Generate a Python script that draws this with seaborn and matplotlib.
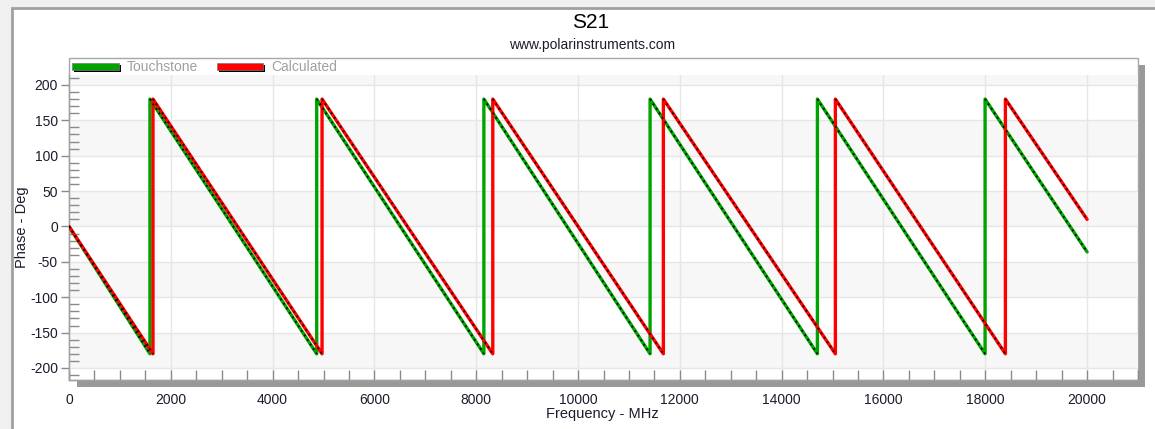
import numpy as np
import pandas as pd
import matplotlib
matplotlib.use("Agg")
import matplotlib.pyplot as plt
import seaborn as sns
from matplotlib.patches import Rectangle
from matplotlib.ticker import MultipleLocator

# ---------------- data ----------------
touch_freq = [0, 1590, 1590, 4866, 4866, 8150, 8150, 11415, 11415,
              14702, 14702, 17996, 17996, 20000]
touch_phase = [0, -180, 180, -180, 180, -180, 180, -180, 180,
               -180, 180, -180, 180, -36]
calc_freq = [0, 1650, 1650, 4971, 4971, 8325, 8325, 11676, 11676,
             15055, 15055, 18395, 18395, 20000]
calc_phase = [0, -180, 180, -180, 180, -180, 180, -180, 180,
              -180, 180, -180, 180, 10]
series_names = ["Touchstone", "Calculated"]
series_colors = ["#00a400", "#ff0000"]
x_ticks = [0, 2000, 4000, 6000, 8000, 10000, 12000, 14000, 16000, 18000, 20000]
y_ticks = [-200, -150, -100, -50, 0, 50, 100, 150, 200]
title = "S21"
subtitle = "www.polarinstruments.com"
x_label = "Frequency - MHz"
y_label = "Phase - Deg"

df = pd.concat([
    pd.DataFrame({"freq": touch_freq, "phase": touch_phase, "series": series_names[0]}),
    pd.DataFrame({"freq": calc_freq, "phase": calc_phase, "series": series_names[1]}),
], ignore_index=True)

# ---------------- style ----------------
sns.set_style("white")
plt.rcParams["font.family"] = ["Liberation Sans", "DejaVu Sans"]
plt.rcParams["axes.unicode_minus"] = False

W, H = 1155, 429
fig = plt.figure(figsize=(W / 100, H / 100), dpi=100)
fig.patch.set_facecolor("#f0f0f0")


def fx(px):
    return px / W


def fy(py):
    return 1 - py / H


# outer white panel with frame
fig.add_artist(Rectangle((fx(12), fy(440)), fx(1160 - 12), (440 - 8) / H,
                         transform=fig.transFigure, facecolor="white",
                         edgecolor="#a0a0a0", lw=2, zorder=0))

# shadows of plot frame
fig.add_artist(Rectangle((fx(1138), fy(387)), 7 / W, (387 - 65) / H,
                         transform=fig.transFigure, facecolor="#999999",
                         edgecolor="none", zorder=1))
fig.add_artist(Rectangle((fx(77), fy(387)), (1145 - 77) / W, 7 / H,
                         transform=fig.transFigure, facecolor="#999999",
                         edgecolor="none", zorder=1))
# plot frame (includes legend strip)
fig.add_artist(Rectangle((fx(69), fy(380)), (1138 - 69) / W, (380 - 58) / H,
                         transform=fig.transFigure, facecolor="white",
                         edgecolor="#a8a8a8", lw=1, zorder=1))

ax = fig.add_axes([fx(69), fy(380), (1138 - 69) / W, (380 - 75) / H])
ax.set_zorder(2)
ax.patch.set_alpha(0)

# alternating horizontal bands
band_color = "#f7f7f7"
for lo, hi in [(200, 230), (100, 150), (0, 50), (-100, -50), (-200, -150)]:
    ax.axhspan(lo, hi, color=band_color, lw=0, zorder=0)

palette = dict(zip(series_names, series_colors))
sns.lineplot(data=df, x="freq", y="phase", hue="series", hue_order=series_names,
             palette=palette, estimator=None, sort=False, lw=2.4,
             legend=False, ax=ax, zorder=3)

# small black data dots along the sloped segments
for fr, ph in [(touch_freq, touch_phase), (calc_freq, calc_phase)]:
    for i in range(len(fr) - 1):
        if fr[i] != fr[i + 1]:
            ax.plot([fr[i], fr[i + 1]], [ph[i], ph[i + 1]], color="black",
                    lw=1.3, ls=(0, (1, 2.0)), zorder=4)

ax.set_xlim(0, 21000)
ax.set_ylim(-217, 214)
ax.set_xticks(x_ticks)
ax.set_yticks(y_ticks)
ax.xaxis.set_minor_locator(MultipleLocator(500))
ax.yaxis.set_minor_locator(MultipleLocator(10))
ax.grid(True, which="major", color="#e6e6e6", lw=1, zorder=1)
ax.set_axisbelow(True)

tick_col = "#8a8a8a"
lab_col = "#1c1c2c"
ax.tick_params(axis="both", which="both", bottom=True, left=True,
               top=False, right=False)
ax.tick_params(axis="y", which="major", direction="out", length=6, width=1,
               color=tick_col, labelsize=10, labelcolor=lab_col, pad=2)
ax.tick_params(axis="y", which="minor", direction="in", length=7, width=1,
               color=tick_col)
ax.tick_params(axis="x", which="major", direction="in", length=7, width=1,
               color=tick_col, labelsize=10, labelcolor=lab_col, pad=9)
ax.tick_params(axis="x", which="minor", direction="in", length=7, width=1,
               color=tick_col)

for s in ["top", "right"]:
    ax.spines[s].set_visible(False)
for s in ["left", "bottom"]:
    ax.spines[s].set_color("#a0a0a0")
    ax.spines[s].set_linewidth(1)

ax.set_xlabel("")
ax.set_ylabel("")
fig.text(fx(602), fy(414), x_label, ha="center", va="center",
         fontsize=10.5, color=lab_col)
fig.text(fx(22), fy(227), y_label, ha="center", va="center", rotation=90,
         fontsize=10.5, color=lab_col)

# titles
fig.text(fx(591), fy(22), title, ha="center", va="center", fontsize=15,
         color="black")
fig.text(fx(592), fy(45), subtitle, ha="center", va="center", fontsize=10,
         color="#1c1c2c")

# legend strip (swatches with shadows)
legend_items = [(72, 119, 127), (217, 263, 271)]
for (x0, x1, tx), name, col in zip(legend_items, series_names, series_colors):
    fig.add_artist(Rectangle((fx(x0 + 2), fy(72)), (x1 - x0) / W, 7 / H,
                             transform=fig.transFigure, facecolor="black",
                             edgecolor="none", zorder=5))
    fig.add_artist(Rectangle((fx(x0), fy(70)), (x1 - x0) / W, 7 / H,
                             transform=fig.transFigure, facecolor=col,
                             edgecolor="#7a7a7a", lw=0.5, zorder=6))
    fig.text(fx(tx), fy(67), name, ha="left", va="center", fontsize=10,
             color="#a0a0a0", zorder=6)

fig.savefig("out.png", dpi=100)
